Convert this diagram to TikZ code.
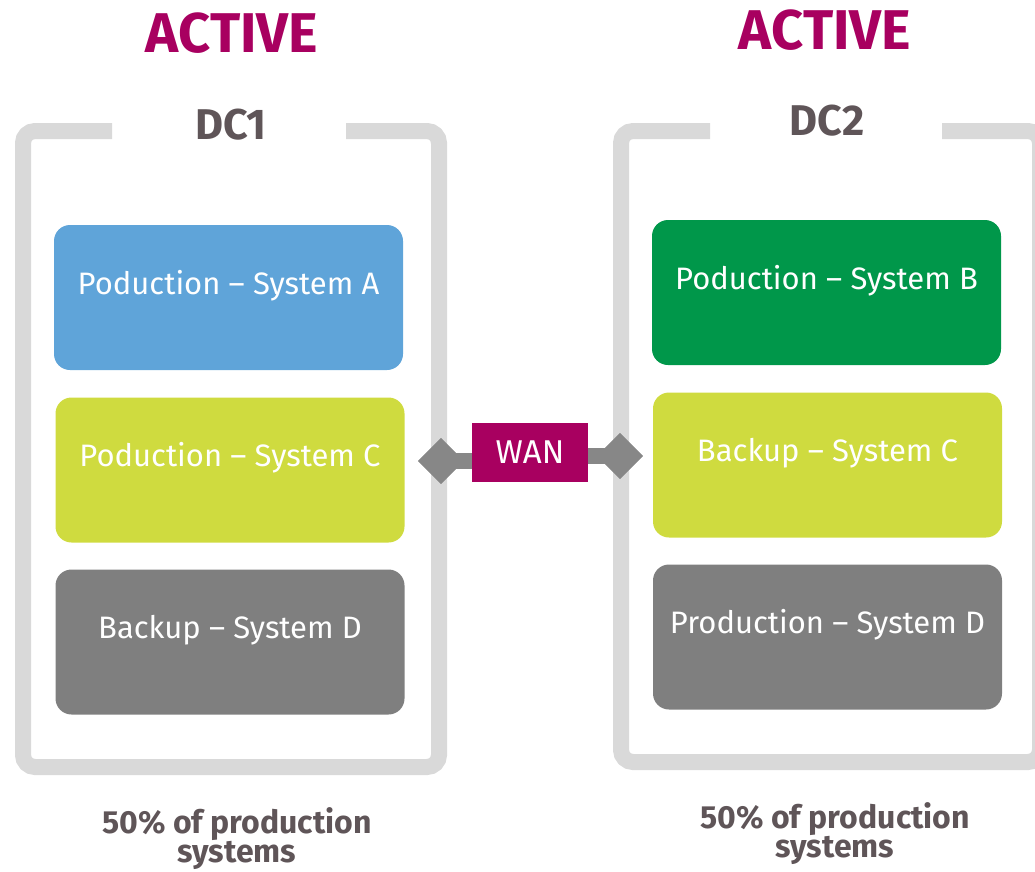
\documentclass[tikz,border=0pt]{standalone}
\usepackage{fontspec}
\setmainfont{Fira Sans}
\usetikzlibrary{shapes.geometric}
\definecolor{ingmag}{HTML}{A80060}
\definecolor{blueA}{HTML}{5FA4D9}
\definecolor{limeC}{HTML}{CFDB3F}
\definecolor{grayD}{HTML}{7F7F7F}
\definecolor{greenB}{HTML}{00974A}
\definecolor{frameg}{HTML}{D9D9D9}
\definecolor{diag}{HTML}{878787}
\definecolor{darktxt}{HTML}{5F5558}
\tikzset{
  sysbox/.style={rounded corners=16pt, minimum width=349pt, minimum height=145pt, inner sep=0pt},
  systext/.style={text=white, font=\fontsize{31}{34}\selectfont},
  frameline/.style={draw=frameg, line width=16pt, rounded corners=12pt},
  activetxt/.style={text=ingmag, font=\fontsize{56}{60}\selectfont\bfseries},
  dctxt/.style={text=darktxt, font=\fontsize{43}{46}\selectfont\bfseries},
  pcttxt/.style={text=darktxt, align=center, font=\fontsize{32}{29}\selectfont\bfseries},
  conn/.style={draw=diag, line width=16pt},
  dia/.style={diamond, fill=diag, minimum width=46pt, minimum height=46pt, inner sep=0pt}
}
\begin{document}
\begin{tikzpicture}[x=1pt,y=-1pt]
\useasboundingbox (0,0) rectangle (1035,871);
% frames
\draw[frameline] (112,131) -- (23,131) -- (23,767) -- (439,767) -- (439,131) -- (346,131);
\draw[frameline] (710,131) -- (621,131) -- (621,762) -- (1040,762) -- (1040,131) -- (942,131);
% titles
\node[activetxt] (act1) at (232,33) {ACTIVE};
\node[activetxt] (act2) at (825,30) {ACTIVE};
\node[dctxt] (dc1) at (231,125) {DC1};
\node[dctxt] (dc2) at (827,121) {DC2};
% boxes left
\node[sysbox, fill=blueA] (A) at (228.5,297.5) {};
\node[sysbox, fill=limeC] (C1) at (230,470) {};
\node[sysbox, fill=grayD] (D1) at (230,642) {};
\node[systext] (tA) at ([yshift=12pt]A.center) {Poduction – System A};
\node[systext] (tC1) at ([yshift=12pt]C1.center) {Poduction – System C};
\node[systext] (tD1) at ([yshift=12pt]D1.center) {Backup – System D};
% boxes right
\node[sysbox, fill=greenB] (B) at (826.5,292.5) {};
\node[sysbox, fill=limeC] (C2) at (827.5,465) {};
\node[sysbox, fill=grayD] (D2) at (827.5,637) {};
\node[systext] (tB) at ([yshift=12pt]B.center) {Poduction – System B};
\node[systext] (tC2) at ([yshift=12pt]C2.center) {Backup – System C};
\node[systext] (tD2) at ([yshift=12pt]D2.center) {Production – System D};
% WAN
\node[fill=ingmag, text=white, minimum width=116pt, minimum height=59pt, inner sep=0pt, font=\fontsize{33}{36}\selectfont] (wan) at (530,452.5) {WAN};
\node[dia] (dl) at (441,461) {};
\node[dia] (dr) at (620,456) {};
\draw[conn] (dl.center) -- (dl.center -| wan.west);
\draw[conn] (dr.center) -- (dr.center -| wan.east);
\node[dia] at (dl) {};
\node[dia] at (dr) {};
% bottom
\node[pcttxt] (p1) at (237,839) {50\% of production\\systems};
\node[pcttxt] (p2) at (835,834) {50\% of production\\systems};
\end{tikzpicture}
\end{document}
